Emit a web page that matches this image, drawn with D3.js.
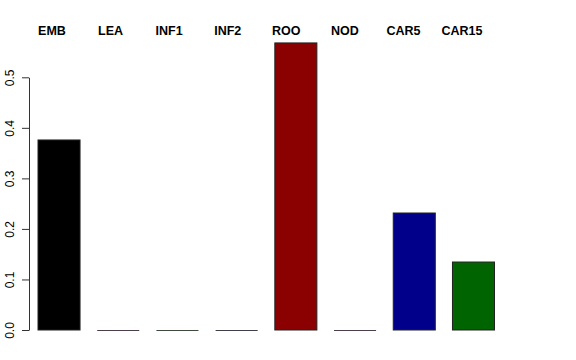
<!DOCTYPE html>
<html>
<head>
<meta charset="utf-8">
<script src="https://cdn.jsdelivr.net/npm/d3@7"></script>
<style>
  body { margin: 0; background: #fff; }
  svg { font-family: "Liberation Sans", Arial, sans-serif; }
</style>
</head>
<body>
<div class="chart"></div>
<script>
// data
const categories = ["EMB", "LEA", "INF1", "INF2", "ROO", "NOD", "CAR5", "CAR15"];
const values = [0.376, 0, 0, 0, 0.568, 0, 0.2315, 0.1345];
const barColors = ["#000000", "#4a3f4a", "#3f4a3f", "#3f3f4a", "#8b0000", "#4a3f4a", "#00008b", "#006400"];
const yTicks = [0, 0.1, 0.2, 0.3, 0.4, 0.5];

const WIDTH = 576;
const HEIGHT = 360;

const svg = d3.select(".chart")
  .append("svg")
  .attr("width", WIDTH)
  .attr("height", HEIGHT);

// scales
const xScale = d3.scaleBand()
  .domain(categories)
  .range([38, 494.5])
  .paddingInner(0.29)
  .paddingOuter(0);

// the names on top are not centred on the bars, they sit on their own grid
const labelScale = d3.scalePoint()
  .domain(categories)
  .range([52, 462]);

const yScale = d3.scaleLinear()
  .domain([0, 0.5])
  .range([330, 77.3]);

// y axis, labels rotated like R's default
const yAxis = svg.append("g")
  .attr("transform", "translate(29, 0)")
  .call(d3.axisLeft(yScale).tickValues(yTicks).tickSize(7).tickSizeOuter(0).tickFormat(d3.format(".1f")));

yAxis.select(".domain").attr("stroke", "#333");
yAxis.selectAll(".tick line").attr("stroke", "#333");
yAxis.selectAll(".tick text")
  .attr("font-size", 12)
  .attr("fill", "#000")
  .attr("font-family", "Liberation Sans, Arial, sans-serif")
  .attr("text-anchor", "middle")
  .attr("x", 0)
  .attr("dy", 0)
  .attr("transform", "translate(-15, 0) rotate(-90)");

// bars
const bars = svg.append("g");

bars.selectAll("rect")
  .data(categories.filter((d, i) => values[i] > 0))
  .join("rect")
  .attr("x", d => xScale(d))
  .attr("y", d => yScale(values[categories.indexOf(d)]))
  .attr("width", xScale.bandwidth())
  .attr("height", d => yScale(0) - yScale(values[categories.indexOf(d)]))
  .attr("fill", d => barColors[categories.indexOf(d)])
  .attr("stroke", "#222")
  .attr("stroke-width", 1);

// zero-height bars only show their border as a flat line
bars.selectAll("line")
  .data(categories.filter((d, i) => values[i] === 0))
  .join("line")
  .attr("x1", d => xScale(d))
  .attr("x2", d => xScale(d) + xScale.bandwidth())
  .attr("y1", yScale(0) + 0.5)
  .attr("y2", yScale(0) + 0.5)
  .attr("stroke", d => barColors[categories.indexOf(d)])
  .attr("stroke-width", 1);

// category names across the top
svg.append("g")
  .selectAll("text")
  .data(categories)
  .join("text")
  .attr("x", d => labelScale(d))
  .attr("y", 35)
  .attr("text-anchor", "middle")
  .attr("font-size", 12.5)
  .attr("font-weight", "bold")
  .text(d => d);
</script>
</body>
</html>
